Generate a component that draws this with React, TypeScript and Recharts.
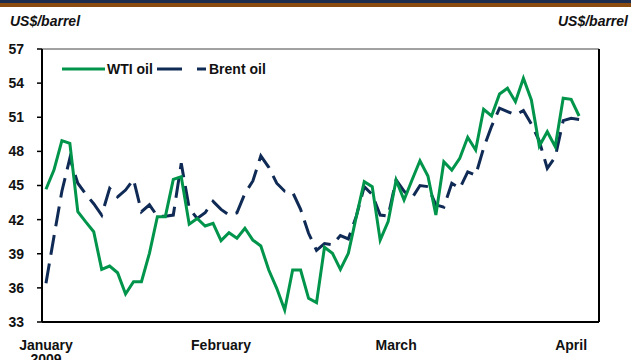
import { Line, LineChart, ReferenceLine, XAxis, YAxis } from "recharts";

// trading days, Jan-Apr 2009 (index on a category-like numeric axis)
const wti = [
  44.67, 46.36, 48.94, 48.7, 42.7, 41.8, 40.94, 37.63, 37.92, 37.33, 35.46, 36.54,
  36.54, 39.04, 42.26, 42.26, 45.54, 45.77, 41.6, 42.1, 41.44, 41.68, 40.15, 40.85,
  40.36, 41.24, 40.2, 39.68, 37.57, 35.96, 34.05, 37.57, 37.57, 35.08, 34.7, 39.57,
  39.04, 37.63, 39.04, 42.26, 45.33, 44.9, 40.2, 41.82, 45.48, 43.73, 45.48, 47.18,
  45.84, 42.41, 47.09, 46.36, 47.39, 49.24, 48.12, 51.7, 51.11, 53.04, 53.55, 52.37,
  54.42, 52.52, 48.47, 49.73, 48.41, 52.67, 52.58, 51.11,
];

const brent = [
  36.4, 40.5, 44.5, 47.4, 45.2, 44.25, 43.4, 42.4, 44.75, 44.0, 44.6, 45.54,
  42.7, 43.3, 42.3, 42.3, 42.4, 46.95, 43.0, 42.1, 42.6, 43.6, 42.9, 42.4,
  42.6, 44.3, 45.4, 47.6, 46.6, 45.2, 44.5, 44.4, 42.9, 40.8, 39.3, 39.9,
  39.8, 40.6, 40.3, 42.3, 44.9, 44.2, 42.4, 42.3, 45.5, 44.5, 43.9, 45.0,
  44.9, 43.3, 43.1, 45.2, 44.75, 46.2, 45.9, 48.3, 50.2, 51.8, 51.5, 51.2,
  51.6, 50.4, 48.9, 46.5, 47.5, 50.7, 50.9, 50.8,
];

const monthTicks = [0, 22, 44, 66];
const monthLabels = ["January", "February", "March", "April"];
const yTicks = [33, 36, 39, 42, 45, 48, 51, 54, 57];

const data = wti.map((v, i) => ({ idx: i, wti: v, brent: brent[i] }));

const FONT = "'Liberation Sans', Arial, sans-serif";
const GREEN = "#00954B";
const NAVY = "#0F2A55";

function MonthTick(props: any) {
  const { x, y, payload } = props;
  const i = monthTicks.indexOf(payload.value);
  return (
    <text
      x={x}
      y={y + 27.5}
      textAnchor="middle"
      fontFamily={FONT}
      fontWeight="bold"
      fontSize={14}
      fill="#111"
    >
      <tspan x={x}>{monthLabels[i]}</tspan>
      {i === 0 && (
        <tspan x={x} dy={14}>
          2009
        </tspan>
      )}
    </text>
  );
}

const axisTick = { fontFamily: FONT, fontWeight: "bold", fontSize: 14, fill: "#111" };

export default function App() {
  return (
    <div
      style={{
        position: "absolute",
        left: 0,
        top: 0,
        width: 631,
        height: 360,
        background: "#fff",
        overflow: "hidden",
        fontFamily: FONT,
      }}
    >
      <div style={{ position: "absolute", left: 0, top: 0, width: 631, height: 3, background: "#1B2C4E" }} />
      <div style={{ position: "absolute", left: 0, top: 3, width: 631, height: 4, background: "#8A4A10" }} />
      <div
        style={{
          position: "absolute",
          left: 10,
          top: 13,
          fontSize: 14,
          fontWeight: "bold",
          fontStyle: "italic",
          color: "#111",
        }}
      >
        US$/barrel
      </div>
      <div
        style={{
          position: "absolute",
          right: 3,
          top: 13,
          fontSize: 14,
          fontWeight: "bold",
          fontStyle: "italic",
          color: "#111",
        }}
      >
        US$/barrel
      </div>

      <LineChart
        width={631}
        height={360}
        data={data}
        margin={{ top: 49, right: 0, bottom: 0, left: 0 }}
      >
        <XAxis
          dataKey="idx"
          type="number"
          domain={[-0.5, 69.5]}
          ticks={monthTicks}
          tick={<MonthTick />}
          tickLine={false}
          tickSize={0}
          tickMargin={0}
          height={38}
          axisLine={{ stroke: "#000", strokeWidth: 2 }}
          interval={0}
        />
        <YAxis
          yAxisId="left"
          domain={[33, 57]}
          ticks={yTicks}
          width={42}
          tickSize={5}
          tickMargin={13}
          tick={axisTick}
          axisLine={{ stroke: "#000", strokeWidth: 2 }}
          tickLine={{ stroke: "#000", strokeWidth: 1.5 }}
          interval={0}
        />
        <YAxis
          yAxisId="right"
          orientation="right"
          domain={[33, 57]}
          ticks={yTicks}
          width={32}
          tickSize={5}
          tickMargin={6}
          tick={axisTick}
          axisLine={{ stroke: "#000", strokeWidth: 2 }}
          tickLine={{ stroke: "#000", strokeWidth: 1.5 }}
          interval={0}
        />
        <ReferenceLine yAxisId="left" y={57} stroke="#444" strokeWidth={1} />
        <Line
          yAxisId="left"
          dataKey="brent"
          stroke={NAVY}
          strokeWidth={3}
          strokeDasharray="20 9"
          dot={false}
          isAnimationActive={false}
        />
        <Line
          yAxisId="left"
          dataKey="wti"
          stroke={GREEN}
          strokeWidth={3}
          dot={false}
          isAnimationActive={false}
        />
      </LineChart>

      <svg
        width={220}
        height={20}
        style={{ position: "absolute", left: 60, top: 59 }}
      >
        <line x1={2} y1={10} x2={45} y2={10} stroke={GREEN} strokeWidth={3} />
        <text x={47} y={15} fontFamily={FONT} fontWeight="bold" fontSize={14} fill="#111">
          WTI oil
        </text>
        <line x1={97} y1={10} x2={146} y2={10} stroke={NAVY} strokeWidth={3} strokeDasharray="25 15" />
        <text x={149} y={15} fontFamily={FONT} fontWeight="bold" fontSize={14} fill="#111">
          Brent oil
        </text>
      </svg>
    </div>
  );
}
